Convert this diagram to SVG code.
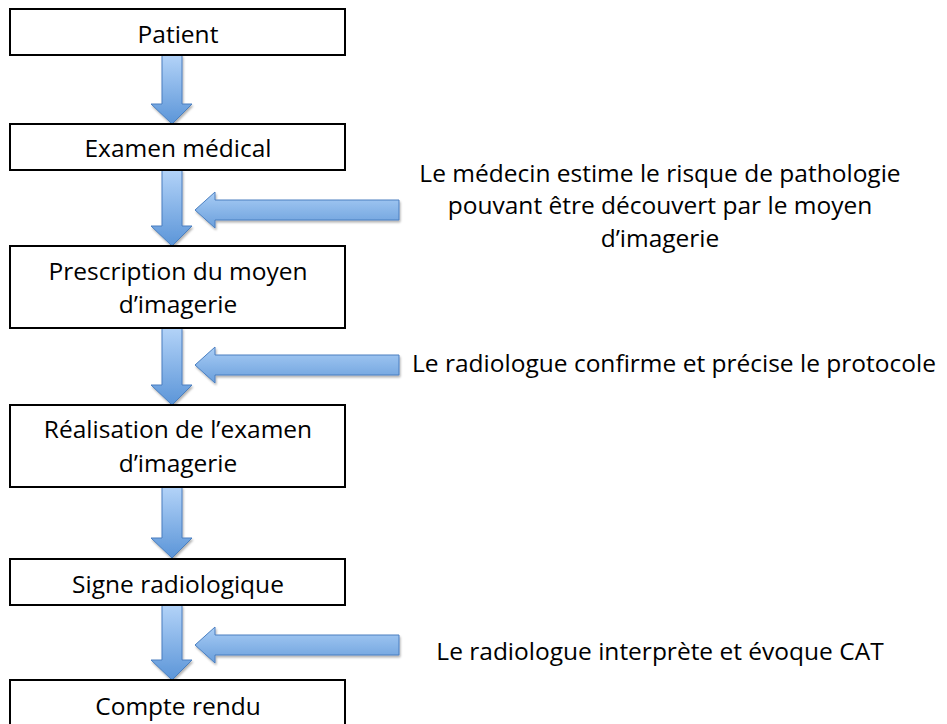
<svg xmlns="http://www.w3.org/2000/svg" width="947" height="724" viewBox="0 0 947 724">
<defs>
<linearGradient id="g" x1="0" y1="0" x2="0" y2="1">
<stop offset="0" stop-color="#b3d3f8"/>
<stop offset="1" stop-color="#5b95d8"/>
</linearGradient>
<linearGradient id="gh" x1="0" y1="0" x2="0" y2="1">
<stop offset="0" stop-color="#a9cdf5"/>
<stop offset="1" stop-color="#6a9fdc"/>
</linearGradient>
<filter id="sh" x="-10%" y="-10%" width="130%" height="130%">
<feDropShadow dx="1" dy="2" stdDeviation="1.2" flood-color="#000" flood-opacity="0.3"/>
</filter>
</defs>
<style>
.box{fill:#fff;stroke:#000;stroke-width:2}
.t{font-family:"Open Sans","Liberation Sans",Arial,sans-serif;font-size:24.5px;fill:#000;text-anchor:middle}
.va{fill:url(#g);stroke:#4a7fc0;stroke-width:1;filter:url(#sh)}
.ha{fill:url(#gh);stroke:#4a7fc0;stroke-width:1;filter:url(#sh)}
</style>
<rect width="947" height="724" fill="#fff"/>
<g id="connectors">
<path class="va" d="M162,55 H182 V104 H192 L172,124 L151,104 H162 Z"/>
<path class="va" d="M162,170 H182 V226 H192 L172,246 L151,226 H162 Z"/>
<path class="va" d="M162,328 H182 V385 H192 L172,405 L151,385 H162 Z"/>
<path class="va" d="M162,487 H182 V538 H192 L172,558 L151,538 H162 Z"/>
<path class="va" d="M162,605 H182 V660 H192 L172,680 L151,660 H162 Z"/>
<path class="ha" d="M399,200 V220 H215 V228 L195,210 L215,192 V200 Z"/>
<path class="ha" d="M399,355 V375 H215 V383 L195,365 L215,347 V355 Z"/>
<path class="ha" d="M399,635 V655 H215 V663 L195,645 L215,627 V635 Z"/>
</g>
<g id="patient">
<rect class="box" x="10" y="9" width="335" height="46"/>
<text class="t" x="178" y="43">Patient</text>
</g>
<g id="examen">
<rect class="box" x="10" y="124" width="335" height="46"/>
<text class="t" x="178" y="157">Examen médical</text>
</g>
<g id="prescription">
<rect class="box" x="10" y="246" width="335" height="82"/>
<text class="t" x="178" y="280">Prescription du moyen</text>
<text class="t" x="178" y="313">d’imagerie</text>
</g>
<g id="realisation">
<rect class="box" x="10" y="405" width="335" height="82"/>
<text class="t" x="178" y="438">Réalisation de l’examen</text>
<text class="t" x="178" y="472">d’imagerie</text>
</g>
<g id="signe">
<rect class="box" x="10" y="559" width="335" height="46"/>
<text class="t" x="178" y="593">Signe radiologique</text>
</g>
<g id="compte">
<rect class="box" x="10" y="680" width="335" height="60"/>
<text class="t" x="178" y="715">Compte rendu</text>
</g>
<g id="note1">
<text class="t" x="660" y="182">Le médecin estime le risque de pathologie</text>
<text class="t" x="660" y="214">pouvant être découvert par le moyen</text>
<text class="t" x="660" y="247">d’imagerie</text>
</g>
<g id="note2">
<text class="t" x="674" y="372">Le radiologue confirme et précise le protocole</text>
</g>
<g id="note3">
<text class="t" x="660" y="660">Le radiologue interprète et évoque CAT</text>
</g>
</svg>
